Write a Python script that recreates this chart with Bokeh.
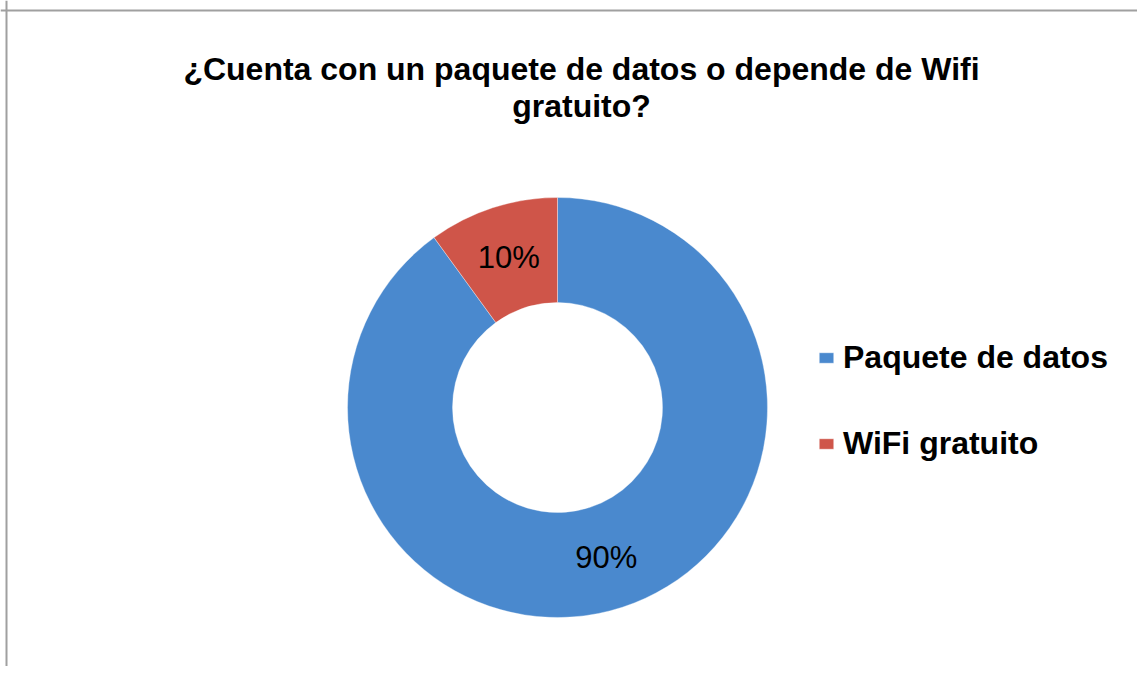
import math
from bokeh.plotting import figure
from bokeh.models import Range1d, Label, Legend, LegendItem, Span, ColumnDataSource
from bokeh.embed import file_html
from bokeh.resources import INLINE

# ---- data ----
categories = ["Paquete de datos", "WiFi gratuito"]
values = [90, 10]
colors = ["#4A89CE", "#CF5549"]
title_lines = ["¿Cuenta con un paquete de datos o depende de Wifi", "gratuito?"]

W, H = 1137, 666
FONT = "Liberation Sans"

p = figure(width=W, height=H, output_backend="svg", toolbar_location=None,
           x_range=Range1d(0, W), y_range=Range1d(0, H),
           x_axis_location=None, y_axis_location=None, min_border=0,
           background_fill_color="white", border_fill_color="white")
p.grid.visible = False
p.outline_line_color = None

# donut geometry (screen px)
cx, cy = 557, H - 407
r_in, r_out = 105, 210

total = sum(values)
starts, ends, mids = [], [], []
cum = 0.0
for v in values:
    a0 = math.pi / 2 - 2 * math.pi * cum / total
    cum += v
    a1 = math.pi / 2 - 2 * math.pi * cum / total
    starts.append(a0)
    ends.append(a1)
    mids.append((a0 + a1) / 2)

src = ColumnDataSource(dict(
    cat=categories, val=values, color=colors,
    start=starts, end=ends,
    x=[cx] * len(values), y=[cy] * len(values),
    lx=[cx + (r_in + r_out) / 2 * math.cos(m) for m in mids],
    ly=[cy + (r_in + r_out) / 2 * math.sin(m) for m in mids],
    lbl=[f"{v / total * 100:.0f}%" for v in values],
))

r = p.annular_wedge(x="x", y="y", inner_radius=r_in, outer_radius=r_out,
                    inner_radius_units="screen", outer_radius_units="screen",
                    start_angle="start", end_angle="end", direction="clock",
                    fill_color="color", line_color="white", line_alpha=0.35,
                    line_width=1, source=src)

p.text(x="lx", y="ly", text="lbl", source=src, text_align="center",
       text_baseline="middle", text_font_size="31px", text_color="black",
       text_font={"value": FONT})

# title
for i, line in enumerate(title_lines):
    p.add_layout(Label(x=581, y=H - 68 - 37 * i, text=line, text_align="center",
                       text_baseline="alphabetic", text_font=FONT,
                       text_font_size="32px", text_font_style="bold",
                       text_color="black"))

# legend
items = [LegendItem(label=c, renderers=[r], index=i) for i, c in enumerate(categories)]
legend = Legend(items=items, location=(817, 204), orientation="vertical",
                glyph_width=18, glyph_height=13, label_standoff=8,
                label_text_font=FONT, label_text_font_size="32px",
                label_text_font_style="bold", label_text_color="black",
                spacing=49, padding=0, margin=0,
                border_line_color=None, background_fill_alpha=0)
p.add_layout(legend, "center")

# chart border (left and top edges visible)
p.add_layout(Span(location=6, dimension="height", line_color="#A0A0A0", line_width=2))
p.add_layout(Span(location=H - 10, dimension="width", line_color="#A0A0A0", line_width=2))

open("out.html", "w").write(file_html(p, INLINE))
